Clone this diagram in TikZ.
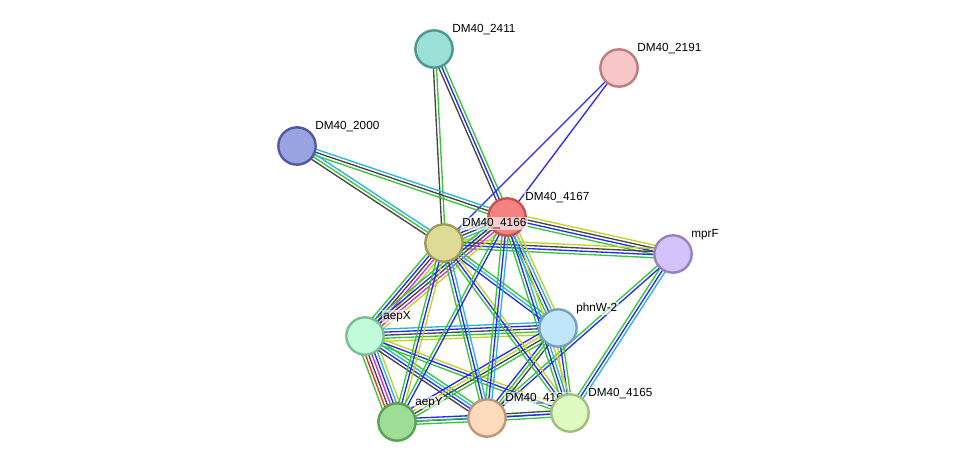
\documentclass[tikz,border=0pt]{standalone}
\usepackage{fontspec}
\setmainfont{Liberation Sans}
\usetikzlibrary{calc,backgrounds}

\definecolor{sgreen}{RGB}{50,200,50}
\definecolor{sred}{RGB}{250,40,40}
\definecolor{sblue}{RGB}{40,40,250}
\definecolor{sblack}{RGB}{70,70,70}
\definecolor{smagenta}{RGB}{220,40,220}
\definecolor{scyan}{RGB}{40,180,225}
\definecolor{syellow}{RGB}{190,210,40}

\definecolor{fTeal}{RGB}{154,224,214}   \definecolor{dTeal}{RGB}{80,150,140}
\definecolor{fRose}{RGB}{246,198,200}   \definecolor{dRose}{RGB}{190,125,128}
\definecolor{fIndigo}{RGB}{154,163,226} \definecolor{dIndigo}{RGB}{80,90,160}
\definecolor{fRed}{RGB}{245,130,130}    \definecolor{dRed}{RGB}{200,80,80}
\definecolor{fOlive}{RGB}{222,219,150}  \definecolor{dOlive}{RGB}{160,155,90}
\definecolor{fLilac}{RGB}{210,195,250}  \definecolor{dLilac}{RGB}{150,130,190}
\definecolor{fMint}{RGB}{192,252,218}   \definecolor{dMint}{RGB}{120,190,150}
\definecolor{fSky}{RGB}{192,230,250}    \definecolor{dSky}{RGB}{120,160,190}
\definecolor{fLeaf}{RGB}{157,222,150}   \definecolor{dLeaf}{RGB}{90,160,85}
\definecolor{fPeach}{RGB}{253,218,188}  \definecolor{dPeach}{RGB}{190,150,120}
\definecolor{fLime}{RGB}{222,250,192}   \definecolor{dLime}{RGB}{160,190,130}

\tikzset{
  prot/.style 2 args={circle,minimum size=28pt,inner sep=0pt,line width=1.8pt,fill=#1,draw=#2},
  lbl/.style={font=\fontsize{8.8}{10}\selectfont,inner sep=1pt,label distance=1.5pt,
    xshift=1pt,yshift=-2.2pt,fill=white,fill opacity=0.6,text opacity=1},
  strand/.style={line width=1pt}
}

% one line per evidence channel, side by side
\def\strandsep{2.3}
\newcommand{\strandedge}[3]{%
  \foreach \col [count=\i] in {#3} {\xdef\nstrands{\i}}%
  \foreach \col [count=\i] in {#3} {%
    \pgfmathsetmacro\off{(\i-(\nstrands+1)/2)*\strandsep}%
    \draw[strand,draw=\col] ($(#1)!\off pt!90:(#2)$) -- ($(#2)!\off pt!-90:(#1)$);
  }%
}

\begin{document}
\begin{tikzpicture}[x=0.75pt,y=-0.75pt]
  \useasboundingbox (0,0) rectangle (975,468);

  \node[prot={fTeal}{dTeal},label={[lbl]45:DM40\_2411}] (n2411) at (434,49) {};
  \node[prot={fRose}{dRose},label={[lbl]45:DM40\_2191}] (n2191) at (619,68) {};
  \node[prot={fIndigo}{dIndigo},label={[lbl]45:DM40\_2000}] (n2000) at (297,146) {};
  \node[prot={fRed}{dRed},label={[lbl]45:DM40\_4167}] (n4167) at (507,217) {};
  \node[prot={fOlive}{dOlive},label={[lbl]45:DM40\_4166}] (n4166) at (444,243) {};
  \node[prot={fLilac}{dLilac},label={[lbl]45:mprF}] (mprF) at (673,254) {};
  \node[prot={fMint}{dMint},label={[lbl]45:aepX}] (aepX) at (365,336) {};
  \node[prot={fSky}{dSky},label={[lbl]45:phnW-2}] (phnW) at (558,328) {};
  \node[prot={fLeaf}{dLeaf},label={[lbl]45:aepY}] (aepY) at (397,422) {};
  \node[prot={fPeach}{dPeach},label={[lbl]45:DM40\_4164}] (n4164) at (487,418) {};
  \node[prot={fLime}{dLime},label={[lbl]45:DM40\_4165}] (n4165) at (570,413) {};

  \begin{pgfonlayer}{background}
    \strandedge{n2411}{n4167}{sblack,sblue,sgreen}
    \strandedge{n2411}{n4166}{sblack,sgreen}
    \strandedge{n2191}{n4167}{sblue}
    \strandedge{n2191}{n4166}{sblue}
    \strandedge{n2000}{n4167}{sgreen,sblack,scyan}
    \strandedge{n2000}{n4166}{sblack,sgreen,scyan}
    \strandedge{n4167}{n4166}{sgreen,sblue,sblack,scyan,syellow}
    \strandedge{n4167}{mprF}{sgreen,sblue,sblack,syellow}
    \strandedge{n4166}{mprF}{sgreen,sblue,sblack,syellow}
    \strandedge{mprF}{n4164}{sgreen,sblue}
    \strandedge{mprF}{n4165}{sgreen,sblue,scyan}
    \strandedge{n4166}{aepX}{sgreen,sblue,sblack,smagenta,syellow}
    \strandedge{n4167}{aepX}{sgreen,sblue,sblack,smagenta,syellow}
    \strandedge{aepX}{phnW}{syellow,sgreen,sblack,sblue,scyan}
    \strandedge{aepX}{aepY}{sgreen,sred,sblack,smagenta,sblue,scyan,syellow}
    \strandedge{aepX}{n4164}{sblack,sblue,scyan,sgreen}
    \strandedge{aepX}{n4165}{sgreen,sblue,syellow}
    \strandedge{aepY}{n4164}{sgreen,sblue,sblue}
    \strandedge{aepY}{n4165}{sgreen}
    \strandedge{n4164}{n4165}{sgreen,sblue,sblack}
    \strandedge{aepY}{phnW}{sgreen,sblack,syellow,sblue}
    \strandedge{n4164}{phnW}{sblack,sgreen,sblue}
    \strandedge{n4165}{phnW}{sgreen,sblue,syellow}
    \strandedge{n4166}{phnW}{sblue,scyan,sgreen}
    \strandedge{n4167}{phnW}{sgreen,sblue,scyan,syellow}
    \strandedge{n4166}{aepY}{sgreen,sblue,syellow}
    \strandedge{n4166}{n4164}{sgreen,sblue,scyan}
    \strandedge{n4166}{n4165}{sgreen,sblue,syellow}
    \strandedge{n4167}{aepY}{sgreen,sblue}
    \strandedge{n4167}{n4164}{sgreen,sblue,scyan}
    \strandedge{n4167}{n4165}{sgreen,sblue,scyan,syellow}
  \end{pgfonlayer}
\end{tikzpicture}
\end{document}
